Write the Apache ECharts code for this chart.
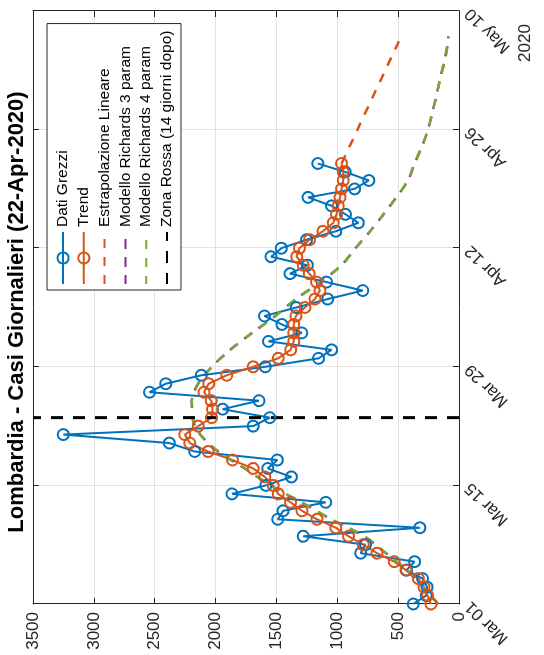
<!DOCTYPE html>
<html><head><meta charset="utf-8">
<script src="https://cdn.jsdelivr.net/npm/echarts/dist/echarts.min.js"></script>
<style>
html,body{margin:0;padding:0;background:#fff;overflow:hidden;width:544px;height:655px;}
#chart{position:absolute;left:0;top:0;width:655px;height:544px;transform-origin:0 0;transform:translateY(655px) rotate(-90deg);}
</style></head><body><div id="chart"></div>
<script>
// Day index 0 = Mar 01 2020
const tickLabels = ['Mar 01','Mar 15','Mar 29','Apr 12','Apr 26','May 10'];
const yearLabel = '2020';
const titleText = 'Lombardia - Casi Giornalieri (22-Apr-2020)';
// daily values Mar 01 .. Apr 22 (index = day)
const datiGrezzi = [376,270,262,300,431,365,808,769,1280,322,1489,1445,1095,1865,1587,1377,1571,1493,2171,2380,3251,1691,1555,1942,1643,2543,2409,2117,1592,1154,1047,1565,1292,1455,1598,1337,1079,791,1089,1388,1246,1544,1460,1252,1012,827,933,1047,1240,858,741,935,1160];
const trend = [230,258,288,334,436,532,673,787,908,1012,1166,1290,1384,1486,1527,1595,1691,1861,2061,2212,2253,2143,2033,2025,2036,2095,2057,1908,1691,1486,1383,1357,1357,1357,1340,1266,1184,1143,1170,1231,1280,1334,1311,1228,1118,1033,1006,992,978,965,951,951,965];
const estrapDays = [52, 67];
const estrapValues = [965, 475];
const richDays = [0,2,4,6,8,10,12,14,16,18,20,22,24,26,28,30,32,34,36,38,40,42,44,46,48,50,52,54,56,58,60,62,64,66,67];
const richards3 = [170,296,430,600,780,1050,1295,1550,1760,1980,2125,2190,2195,2143,2030,1880,1700,1510,1340,1140,965,850,730,620,515,420,365,305,255,220,185,156,120,95,88];
const richards4 = [170,296,430,600,780,1050,1295,1550,1760,1980,2125,2190,2195,2143,2030,1880,1700,1510,1340,1140,965,850,730,620,515,420,365,305,255,220,185,156,120,95,88];
const zonaRossaDay = 22;
const zonaRossaRange = [0, 3500];
const names = ['Dati Grezzi','Trend','Estrapolazione Lineare','Modello Richards 3 param','Modello Richards 4 param','Zona Rossa (14 giorni dopo)'];

const FONT = '"Liberation Sans", Arial, Helvetica, sans-serif';
const AX = '#262626';
const GRID = '#e2e2e2';
const NOFILL = 'rgba(0,0,0,0)';
const pairs = (xs, ys) => ys.map((v, i) => [xs ? xs[i] : i, v]);

const chart = echarts.init(document.getElementById('chart'), null, {renderer: 'canvas'});
const baseX = {type:'value', min:0, max:70, interval:14};
const baseY = {type:'value', min:0, max:3500, interval:500};
const axLine = {show:true, onZero:false, lineStyle:{color:AX, width:1}};
const axTick = {show:true, inside:true, length:6, lineStyle:{color:AX, width:1}};
chart.setOption({
  animation:false,
  backgroundColor:'#fff',
  grid:{left:51, right:11, top:33, bottom:85, containLabel:false, outerBoundsMode:'none'},
  xAxis:[
    Object.assign({}, baseX, {position:'bottom', axisLine:axLine, axisTick:axTick,
      axisLabel:{rotate:45, fontSize:17, color:AX, fontFamily:FONT, margin:9, formatter:v => tickLabels[Math.round(v/14)]},
      splitLine:{show:true, lineStyle:{color:GRID, width:1}}}),
    Object.assign({}, baseX, {position:'top', axisLine:axLine, axisTick:axTick, axisLabel:{show:false}, splitLine:{show:false}})
  ],
  yAxis:[
    Object.assign({}, baseY, {position:'left', axisLine:axLine, axisTick:axTick,
      axisLabel:{fontSize:17, color:AX, fontFamily:FONT, margin:8, formatter:v => String(v)},
      splitLine:{show:true, lineStyle:{color:GRID, width:1}}}),
    Object.assign({}, baseY, {position:'right', axisLine:axLine, axisTick:axTick, axisLabel:{show:false}, splitLine:{show:false}})
  ],
  legend:{
    orient:'vertical', left:365, top:47, padding:[8,7,6,5],
    itemWidth:52, itemHeight:14, itemGap:4.8,
    borderColor:AX, borderWidth:1, borderRadius:0, backgroundColor:'#fff',
    textStyle:{fontSize:15.5, lineHeight:16, color:'#000', fontFamily:FONT},
    data:names
  },
  graphic:[
    {type:'text', x:343, y:17, style:{text:titleText, font:'bold 22px '+FONT, fill:'#000', textAlign:'center', textVerticalAlign:'middle'}},
    {type:'text', x:612, y:525, style:{text:yearLabel, font:'17px '+FONT, fill:AX, textAlign:'center', textVerticalAlign:'middle'}}
  ],
  series:[
    {name:names[0], type:'line', data:pairs(null, datiGrezzi), symbol:'circle', symbolSize:11,
      lineStyle:{color:'#0072BD', width:2}, itemStyle:{color:NOFILL, borderColor:'#0072BD', borderWidth:2}},
    {name:names[1], type:'line', data:pairs(null, trend), symbol:'circle', symbolSize:11,
      lineStyle:{color:'#D95319', width:2}, itemStyle:{color:NOFILL, borderColor:'#D95319', borderWidth:2}},
    {name:names[2], type:'line', data:pairs(estrapDays, estrapValues), symbol:'none',
      lineStyle:{color:'#D95319', width:2.5, type:[9,9]}, itemStyle:{color:NOFILL, borderWidth:0}},
    {name:names[3], type:'line', data:pairs(richDays, richards3), symbol:'none', smooth:0.3,
      lineStyle:{color:'#7E2F8E', width:2.5, type:[10,8], dashOffset:1}, itemStyle:{color:NOFILL, borderWidth:0}},
    {name:names[4], type:'line', data:pairs(richDays, richards4), symbol:'none', smooth:0.3,
      lineStyle:{color:'#77AC30', width:2.5, type:[9,9]}, itemStyle:{color:NOFILL, borderWidth:0}},
    {name:names[5], type:'line', data:zonaRossaRange.map(v => [zonaRossaDay, v]), symbol:'none',
      lineStyle:{color:'#000', width:3, type:[12,10]}, itemStyle:{color:NOFILL, borderWidth:0}}
  ]
});
</script></body></html>
